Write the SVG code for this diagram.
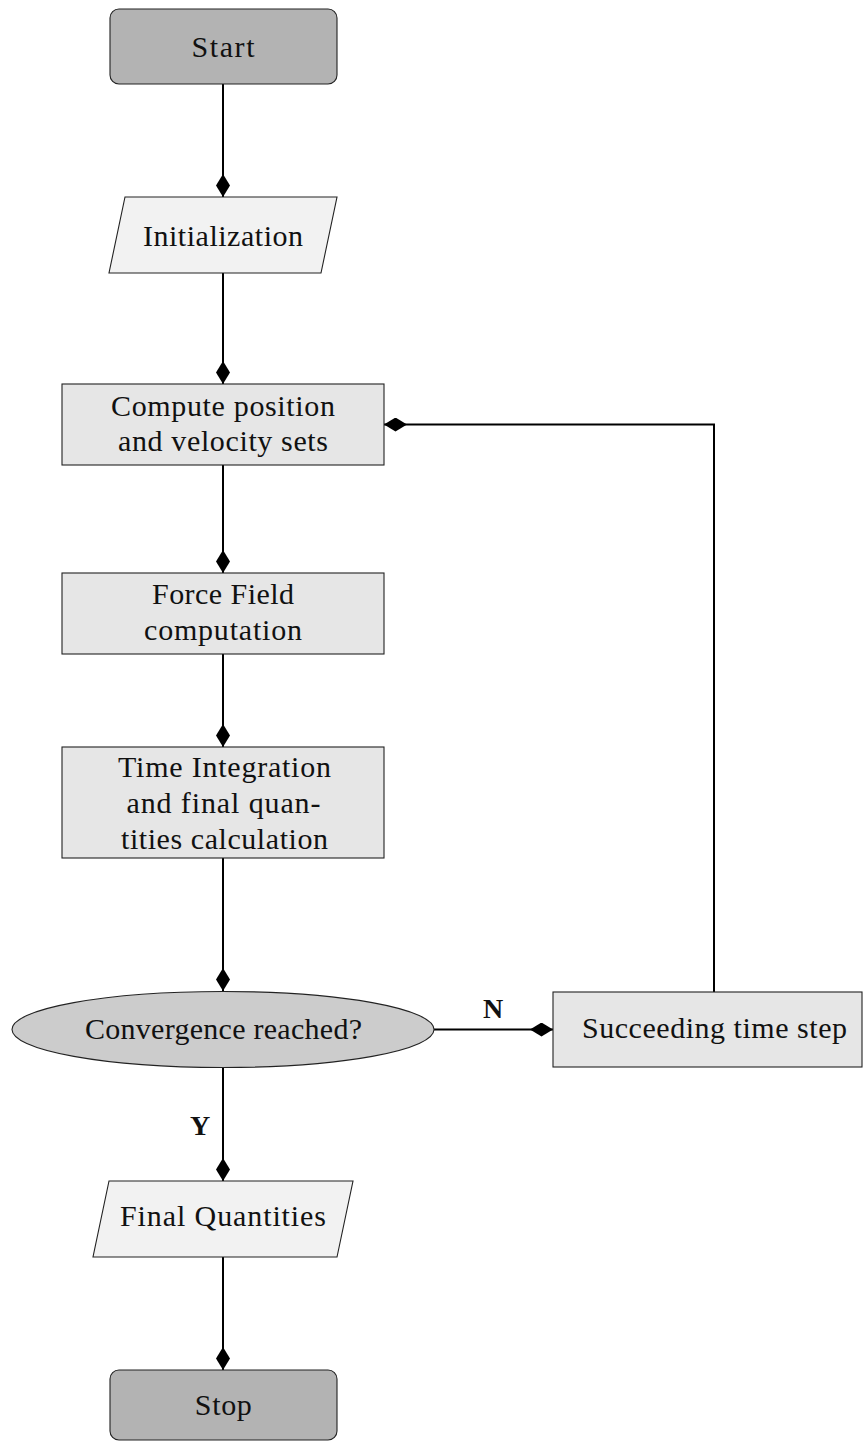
<svg xmlns="http://www.w3.org/2000/svg" width="863" height="1441" viewBox="0 0 863 1441">
<style>
  .node { stroke: #222; stroke-width: 1.1; }
  .term { fill: #b3b3b3; }
  .io { fill: #f2f2f2; }
  .proc { fill: #e6e6e6; }
  .dec { fill: #cccccc; }
  .lbl { font-family: "Liberation Serif", "Times New Roman", serif; font-size: 30px; fill: #111; text-anchor: middle; }
  .bold { font-weight: bold; font-size: 28px; }
  .conn { fill: none; stroke: #000; stroke-width: 2; marker-end: url(#dia); }
</style>
<defs>
  <marker id="dia" viewBox="0 -7 23 14" markerWidth="23" markerHeight="14" refX="23" refY="0" orient="auto" markerUnits="userSpaceOnUse">
    <path d="M0,0 L11.5,-7 L23,0 L11.5,7 Z" fill="#000"/>
  </marker>
</defs>

<g id="connectors">
  <path class="conn" d="M223,84 L223,197"/>
  <path class="conn" d="M223,273 L223,384"/>
  <path class="conn" d="M223,465 L223,573"/>
  <path class="conn" d="M223,654 L223,747"/>
  <path class="conn" d="M223,858 L223,991"/>
  <path class="conn" d="M223,1068 L223,1181"/>
  <path class="conn" d="M223,1257 L223,1370"/>
  <path class="conn" d="M434,1029.5 L553,1029.5"/>
  <path class="conn" d="M714,992 L714,424.5 L384,424.5"/>
  <text class="lbl bold" x="493" y="1018">N</text>
  <text class="lbl bold" x="200" y="1135">Y</text>
</g>

<g id="start">
  <rect class="node term" x="110" y="9" width="227" height="75" rx="9"/>
  <text class="lbl" x="223" y="56.5" textLength="63" lengthAdjust="spacing">Start</text>
</g>

<g id="init">
  <polygon class="node io" points="125,197 337,197 321,273 109,273"/>
  <text class="lbl" x="223" y="246" textLength="160" lengthAdjust="spacing">Initialization</text>
</g>

<g id="compute">
  <rect class="node proc" x="62" y="384" width="322" height="81"/>
  <text class="lbl" x="223" y="415.5" textLength="224" lengthAdjust="spacing">Compute position</text>
  <text class="lbl" x="223" y="451" textLength="210" lengthAdjust="spacing">and velocity sets</text>
</g>

<g id="force">
  <rect class="node proc" x="62" y="573" width="322" height="81"/>
  <text class="lbl" x="223" y="603.5" textLength="142" lengthAdjust="spacing">Force Field</text>
  <text class="lbl" x="223" y="639.5" textLength="158" lengthAdjust="spacing">computation</text>
</g>

<g id="integration">
  <rect class="node proc" x="62" y="747" width="322" height="111"/>
  <text class="lbl" x="224.5" y="777" textLength="213" lengthAdjust="spacing">Time Integration</text>
  <text class="lbl" x="223.5" y="813" textLength="194" lengthAdjust="spacing">and final quan-</text>
  <text class="lbl" x="224.5" y="849" textLength="207" lengthAdjust="spacing">tities calculation</text>
</g>

<g id="convergence">
  <ellipse class="node dec" cx="223" cy="1029.5" rx="211" ry="38"/>
  <text class="lbl" x="223.5" y="1039" textLength="277" lengthAdjust="spacing">Convergence reached?</text>
</g>

<g id="succeeding">
  <rect class="node proc" x="553" y="992" width="309" height="75"/>
  <text class="lbl" x="714.5" y="1038" textLength="265" lengthAdjust="spacing">Succeeding time step</text>
</g>

<g id="final">
  <polygon class="node io" points="109,1181 353,1181 337,1257 93,1257"/>
  <text class="lbl" x="223" y="1226" textLength="206" lengthAdjust="spacing">Final Quantities</text>
</g>

<g id="stop">
  <rect class="node term" x="110" y="1370" width="227" height="70" rx="9"/>
  <text class="lbl" x="223.3" y="1415" textLength="57" lengthAdjust="spacing">Stop</text>
</g>
</svg>
